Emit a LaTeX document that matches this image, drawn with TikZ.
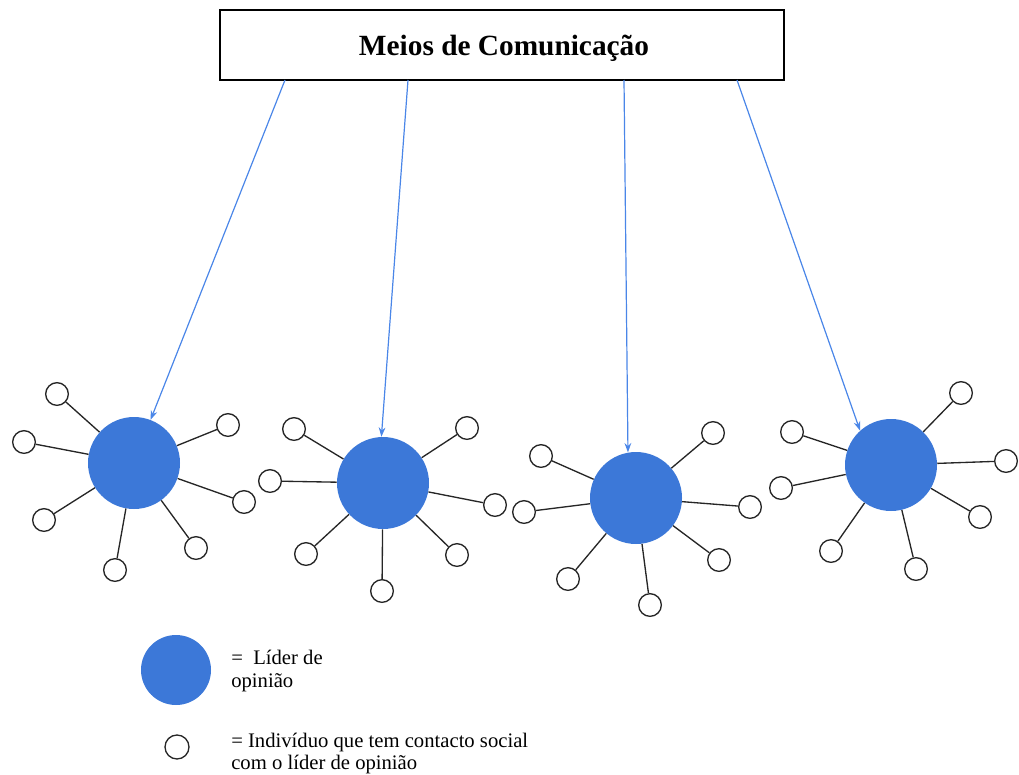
\documentclass[tikz,border=0pt]{standalone}
\usepackage{fontspec}
\setmainfont{Liberation Serif}
\usepackage{tikz}
\usetikzlibrary{arrows.meta}
\definecolor{lidercor}{HTML}{3C78D8}
\definecolor{setacor}{HTML}{4A86E8}
\tikzset{
	lider/.style={circle, fill=lidercor, minimum size=69pt, inner sep=0pt},
	contato/.style={circle, draw=black!85, line width=1pt, fill=white, minimum size=17pt, inner sep=0pt},
	ligacao/.style={draw=black!85, line width=1pt},
	midia/.style={-{Stealth[length=7pt, width=5pt]}, draw=setacor, line width=0.9pt}
}
\begin{document}
\begin{tikzpicture}[x=0.75pt, y=-0.75pt]
	\useasboundingbox (0,0) rectangle (1019,774);
	\node[draw, line width=1.1pt, minimum width=423pt, minimum height=52.5pt, inner sep=0pt] (meios) at (502,45) {};
	\node[font=\bfseries\fontsize{22}{26}\selectfont, inner sep=0pt] (titulo) at (504,48) {Meios de Comunicação};
	% lideres de opiniao
	\node[lider] (l1) at (134,463) {};
	\node[lider] (l2) at (383,483) {};
	\node[lider] (l3) at (636,498) {};
	\node[lider] (l4) at (891,465) {};
	% individuos em contacto
	\foreach \n/\x/\y in {1/57/394, 2/24/442, 3/44/520, 4/115/570, 5/196/548, 6/244/502, 7/228/425}{
		\node[contato] (c1-\n) at (\x,\y) {};
		\draw[ligacao] (l1) -- (c1-\n);
	}
	\foreach \n/\x/\y in {1/294/429, 2/270/481, 3/306/554, 4/382/591, 5/457/555, 6/495/505, 7/467/428}{
		\node[contato] (c2-\n) at (\x,\y) {};
		\draw[ligacao] (l2) -- (c2-\n);
	}
	\foreach \n/\x/\y in {1/541/456, 2/524/512, 3/568/579, 4/650/605, 5/719/560, 6/750/507, 7/713/433}{
		\node[contato] (c3-\n) at (\x,\y) {};
		\draw[ligacao] (l3) -- (c3-\n);
	}
	\foreach \n/\x/\y in {1/792/432, 2/781/488, 3/831/551, 4/916/569, 5/980/517, 6/1006/461, 7/961/393}{
		\node[contato] (c4-\n) at (\x,\y) {};
		\draw[ligacao] (l4) -- (c4-\n);
	}
	% setas dos meios
	\coordinate (s1) at (285,80);
	\coordinate (s2) at (408,80);
	\coordinate (s3) at (624,80);
	\coordinate (s4) at (737,80);
	\draw[midia] (s1) -- (l1.69);
	\draw[midia] (s2) -- (l2.92);
	\draw[midia] (s3) -- (l3.100);
	\draw[midia] (s4) -- (l4.132);
	% legenda
	\node[lider, minimum size=52.5pt] (leglider) at (176,670) {};
	\node[contato, minimum size=18pt] (legcontato) at (177,747) {};
	\node[anchor=west, align=left, inner sep=0pt, font=\fontsize{15.5}{17}\selectfont] (txtlider) at (231,671) {=\ \ Líder de\\opinião};
	\node[anchor=west, align=left, inner sep=0pt, font=\fontsize{15.5}{16.5}\selectfont] (txtcontato) at (231,754) {= Indivíduo que tem contacto social\\com o líder de opinião};
\end{tikzpicture}
\end{document}
